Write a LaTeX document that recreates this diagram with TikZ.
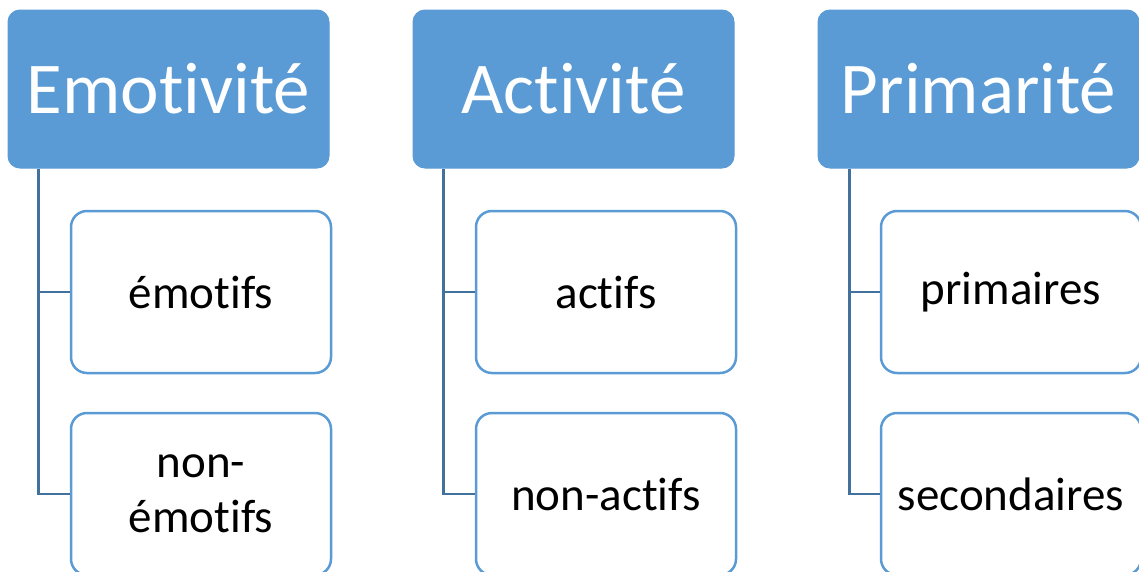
\documentclass[tikz,border=0pt]{standalone}
\usepackage{fontspec}
\setmainfont{Carlito}[Ligatures=NoCommon]
\usetikzlibrary{positioning}
\definecolor{boxblue}{HTML}{5B9BD5}
\definecolor{lineblue}{HTML}{41719C}
\begin{document}
\begin{tikzpicture}[x=1pt,y=-1pt,node distance=405pt,
  head/.style={draw=boxblue,fill=boxblue,line width=1pt,rounded corners=12pt,minimum width=321pt,minimum height=158pt,inner sep=0pt,text=white,font=\fontsize{73}{80}\selectfont},
  leaf/.style={draw=boxblue,fill=white,line width=2.5pt,rounded corners=16pt,minimum width=260pt,minimum height=162pt,inner sep=0pt,align=center,font=\fontsize{47}{55}\selectfont},
  conn/.style={draw=lineblue,line width=2.5pt}]
  \useasboundingbox (0,0) rectangle (1139,571);
  \clip (0,0) rectangle (1139,571);

  \node[head] (emo) at (168.5,89) {Emotivité};
  \node[head,right of =emo] (act) {Activité};
  \node[head,right of =act] (prim) {Primarité};

  \node[leaf] (emo1) at (201,292) {émotifs};
  \node[leaf,right of =emo1] (act1) {actifs};
  \node[leaf,right of =act1] (prim1) {primaires};

  \node[leaf,below of =emo1,node distance=202pt] (emo2) {non-\\émotifs};
  \node[leaf,right of =emo2] (act2) {non-actifs};
  \node[leaf,right of =act2] (prim2) {secondaires};

  \draw[conn] (emo.south west) ++(31,0) |- (emo1.west);
  \draw[conn] (emo.south west) ++(31,0) |- (emo2.west);
  \draw[conn] (act.south west) ++(31,0) |- (act1.west);
  \draw[conn] (act.south west) ++(31,0) |- (act2.west);
  \draw[conn] (prim.south west) ++(32,0) |- (prim1.west);
  \draw[conn] (prim.south west) ++(32,0) |- (prim2.west);
\end{tikzpicture}
\end{document}
